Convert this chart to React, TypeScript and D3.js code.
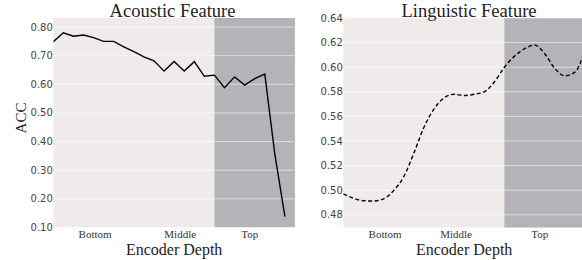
import React from 'react';
import * as d3 from 'd3';

// Accuracy per encoder layer (0 = bottom)
const acousticAcc = [0.749, 0.780, 0.768, 0.772, 0.763, 0.750, 0.750, 0.731, 0.714, 0.696, 0.682, 0.646,
  0.680, 0.646, 0.679, 0.628, 0.632, 0.588, 0.626, 0.597, 0.620, 0.636, 0.355, 0.138];
const linguisticAcc = [0.497, 0.4935, 0.4915, 0.4912, 0.493, 0.4998, 0.511, 0.530, 0.551, 0.566, 0.575, 0.578,
  0.577, 0.578, 0.580, 0.588, 0.600, 0.609, 0.615, 0.618, 0.611, 0.599, 0.593, 0.596, 0.614];

const acousticTicks = [0.1, 0.2, 0.3, 0.4, 0.5, 0.6, 0.7, 0.8];
const linguisticTicks = [0.48, 0.5, 0.52, 0.54, 0.56, 0.58, 0.6, 0.62, 0.64];
const depthLabels = ['Bottom', 'Middle', 'Top'];
const acousticDepthPos = [4.15, 12.6, 19.5];
const linguisticDepthPos = [4.15, 11.2, 19.5];
const topRegion = [16, 24];

const SERIF = '"Liberation Serif", "Times New Roman", serif';
const SANS = '"DejaVu Sans", sans-serif';

type PanelProps = {
  id: string;
  title: string;
  titleX: number;
  left: number;
  values: number[];
  yDomain: [number, number];
  ticks: number[];
  depthPos: number[];
  dashed?: boolean;
  smooth?: boolean;
};

const Panel = ({ id, title, titleX, left, values, yDomain, ticks, depthPos, dashed, smooth }: PanelProps) => {
  const top = 18;
  const bottom = 227.5;
  const width = 241.7;

  const x = d3.scaleLinear().domain([0, 24]).range([left, left + width]);
  const y = d3.scaleLinear().domain(yDomain).range([bottom, top]);

  const line = d3.line<number>()
    .x((_, i) => x(i))
    .y(d => y(d))
    .curve(smooth ? d3.curveMonotoneX : d3.curveLinear);

  return (
    <g>
      <defs>
        <clipPath id={id}>
          <rect x={left} y={top} width={width} height={bottom - top} />
        </clipPath>
      </defs>
      <rect x={left} y={top} width={width} height={bottom - top} fill="#efebeb" />
      <rect x={x(topRegion[0])} y={top} width={x(topRegion[1]) - x(topRegion[0])} height={bottom - top} fill="#b4b3b7" />
      {ticks.map(t => (
        <g key={t}>
          <line x1={left} x2={left + width} y1={y(t)} y2={y(t)} stroke="#ffffff" strokeOpacity={0.55} strokeWidth={1} />
          <text x={left - 0.5} y={y(t)} textAnchor="end" dominantBaseline="central"
            fontFamily={SANS} fontSize={10} fill="#444">{d3.format('.2f')(t)}</text>
        </g>
      ))}
      <path d={line(values) || ''} fill="none" stroke="#000" strokeWidth={1.4}
        strokeDasharray={dashed ? '4,2.5' : undefined} clipPath={`url(#${id})`} />
      {depthLabels.map((lab, i) => (
        <text key={lab} x={x(depthPos[i])} y={238} textAnchor="middle"
          fontFamily={SERIF} fontSize={11} fill="#333">{lab}</text>
      ))}
      <text x={x(12)} y={255} textAnchor="middle" fontFamily={SERIF} fontSize={16} fill="#222">Encoder Depth</text>
      <text x={titleX} y={16.5} textAnchor="middle" fontFamily={SERIF} fontSize={18.5} fill="#222">{title}</text>
    </g>
  );
};

const App = () => {
  return (
    <svg width={582} height={260} style={{ position: 'absolute', left: 0, top: 0, background: '#fff' }}>
      <Panel id="clipA" title="Acoustic Feature" titleX={172.5} left={53.3} values={acousticAcc}
        yDomain={[0.1, 0.8315]} ticks={acousticTicks} depthPos={acousticDepthPos} />
      <Panel id="clipL" title="Linguistic Feature" titleX={469} left={343.3} values={linguisticAcc}
        yDomain={[0.4697, 0.64]} ticks={linguisticTicks} depthPos={linguisticDepthPos} dashed smooth />
      <text transform="translate(25.5,118) rotate(-90)" textAnchor="middle" fontFamily={SERIF}
        fontSize={15} fill="#222">ACC</text>
    </svg>
  );
};

export default App;
